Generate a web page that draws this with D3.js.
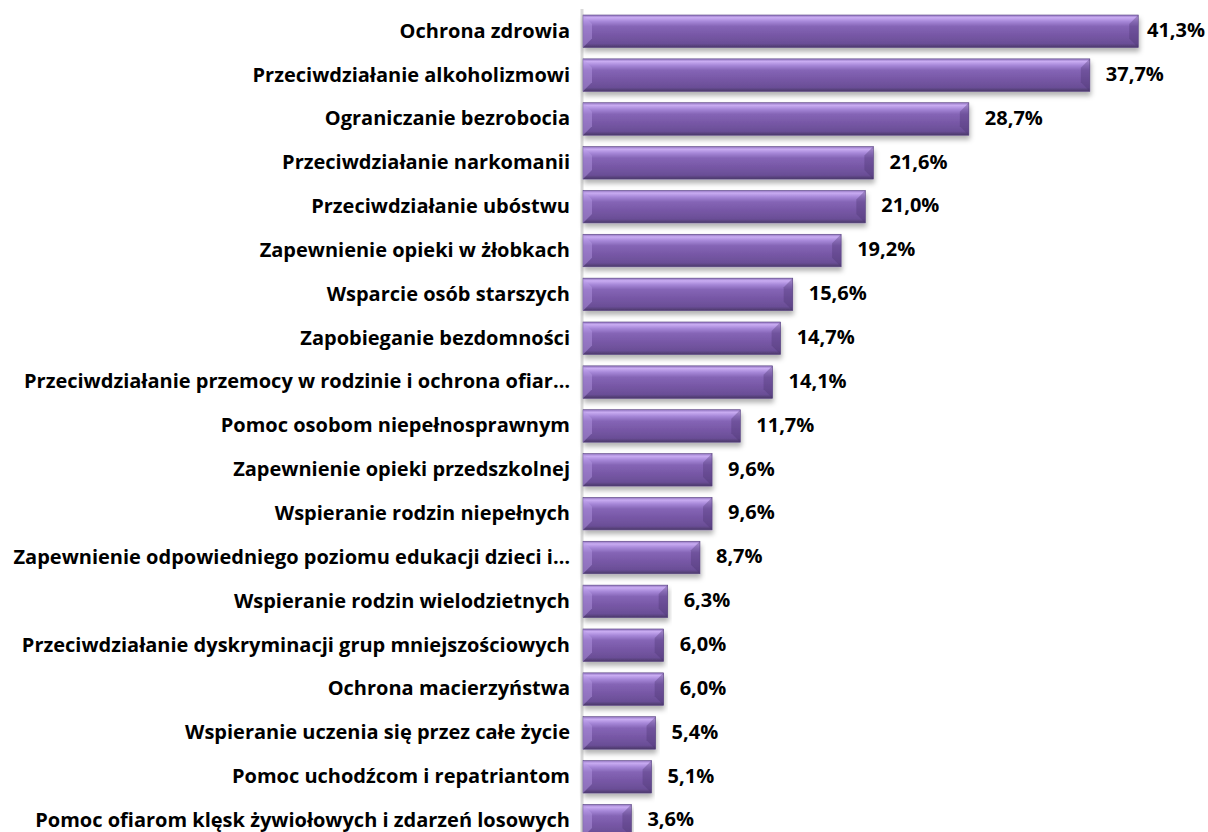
<!DOCTYPE html>
<html>
<head>
<meta charset="utf-8">
<script src="https://cdn.jsdelivr.net/npm/d3@7"></script>
<style>
  body { margin: 0; background: #fff; }
  text { font-family: "Open Sans", "Noto Sans", sans-serif; font-weight: 700; fill: #000; }
</style>
</head>
<body>
<div id="chart"></div>
<script>
// Data
const categories = [
  "Ochrona zdrowia",
  "Przeciwdziałanie alkoholizmowi",
  "Ograniczanie bezrobocia",
  "Przeciwdziałanie narkomanii",
  "Przeciwdziałanie ubóstwu",
  "Zapewnienie opieki w żłobkach",
  "Wsparcie osób starszych",
  "Zapobieganie bezdomności",
  "Przeciwdziałanie przemocy w rodzinie i ochrona ofiar…",
  "Pomoc osobom niepełnosprawnym",
  "Zapewnienie opieki przedszkolnej",
  "Wspieranie rodzin niepełnych",
  "Zapewnienie odpowiedniego poziomu edukacji dzieci i…",
  "Wspieranie rodzin wielodzietnych",
  "Przeciwdziałanie dyskryminacji grup mniejszościowych",
  "Ochrona macierzyństwa",
  "Wspieranie uczenia się przez całe życie",
  "Pomoc uchodźcom i repatriantom",
  "Pomoc ofiarom klęsk żywiołowych i zdarzeń losowych"
]
const values = [41.3, 37.7, 28.7, 21.6, 21.0, 19.2, 15.6, 14.7, 14.1, 11.7, 9.6, 9.6, 8.7, 6.3, 6.0, 6.0, 5.4, 5.1, 3.6]

const dataset = categories.map((c, i) => ({ cat: c, val: values[i] }))
const fmt = v => v.toFixed(1).replace('.', ',') + '%'

// Dimensions
const dimensions = { width: 1208, height: 832 }

const svg = d3.select('#chart')
  .append('svg')
  .attr('width', dimensions.width)
  .attr('height', dimensions.height)

// Defs: gradient + shadow
const defs = svg.append('defs')
const grad = defs.append('linearGradient')
  .attr('id', 'barGrad')
  .attr('x1', 0).attr('y1', 0).attr('x2', 0).attr('y2', 1)
const stops = [
  [0, '#8f72bd'], [0.08, '#c9acf2'], [0.2, '#a687d8'], [0.35, '#8565b6'],
  [0.6, '#7858a7'], [0.88, '#6a4e96'], [1, '#4a3868']
]
stops.forEach(s => grad.append('stop').attr('offset', s[0]).attr('stop-color', s[1]))

const shadow = defs.append('filter').attr('id', 'shadow')
  .attr('x', '-5%').attr('y', '-20%').attr('width', '110%').attr('height', '160%')
shadow.append('feDropShadow')
  .attr('dx', 1).attr('dy', 4).attr('stdDeviation', 2.5)
  .attr('flood-color', '#000').attr('flood-opacity', 0.3)

// Scales
const xScale = d3.scaleLinear()
  .domain([0, 45])
  .range([583, 1188])

const yScale = d3.scaleBand()
  .domain(categories)
  .range([9.3, 842.6])
  .paddingInner(0.259)
  .paddingOuter(0.13)

// axis line
svg.append('line')
  .attr('x1', 582).attr('x2', 582)
  .attr('y1', 9).attr('y2', dimensions.height)
  .attr('stroke', '#d9d9d9')
  .attr('stroke-width', 3)

// bars
const bars = svg.append('g')
  .selectAll('g')
  .data(dataset)
  .join('g')

bars.append('rect')
  .attr('x', xScale(0))
  .attr('y', d => yScale(d.cat))
  .attr('width', d => xScale(d.val) - xScale(0))
  .attr('height', yScale.bandwidth())
  .attr('fill', 'url(#barGrad)')
  .attr('stroke', '#5b4684')
  .attr('stroke-width', 0.6)
  .attr('filter', 'url(#shadow)')

// bevel on the ends
const b = 9
bars.append('path')
  .attr('d', d => {
    const x0 = xScale(0), y0 = yScale(d.cat), y1 = y0 + yScale.bandwidth()
    return `M${x0},${y0} L${x0 + b},${y0 + b} L${x0 + b},${y1 - b} L${x0},${y1} Z`
  })
  .attr('fill', '#b79be6')
  .attr('opacity', 0.45)

bars.append('path')
  .attr('d', d => {
    const x1 = xScale(d.val), y0 = yScale(d.cat), y1 = y0 + yScale.bandwidth()
    return `M${x1},${y0} L${x1 - b},${y0 + b} L${x1 - b},${y1 - b} L${x1},${y1} Z`
  })
  .attr('fill', '#4b3570')
  .attr('opacity', 0.35)

// category labels
svg.append('g')
  .selectAll('text')
  .data(dataset)
  .join('text')
  .attr('x', 570)
  .attr('y', d => yScale(d.cat) + yScale.bandwidth() / 2)
  .attr('dy', '0.32em')
  .attr('text-anchor', 'end')
  .style('font-size', '20px')
  .text(d => d.cat)

// value labels
svg.append('g')
  .selectAll('text')
  .data(dataset)
  .join('text')
  .attr('y', d => yScale(d.cat) + yScale.bandwidth() / 2)
  .attr('dy', '0.29em')
  .style('font-size', '20px')
  .text(d => fmt(d.val))
  .attr('x', function (d) {
    const w = this.getComputedTextLength()
    return Math.min(xScale(d.val) + 16, dimensions.width - w - 3)
  })
</script>
</body>
</html>
